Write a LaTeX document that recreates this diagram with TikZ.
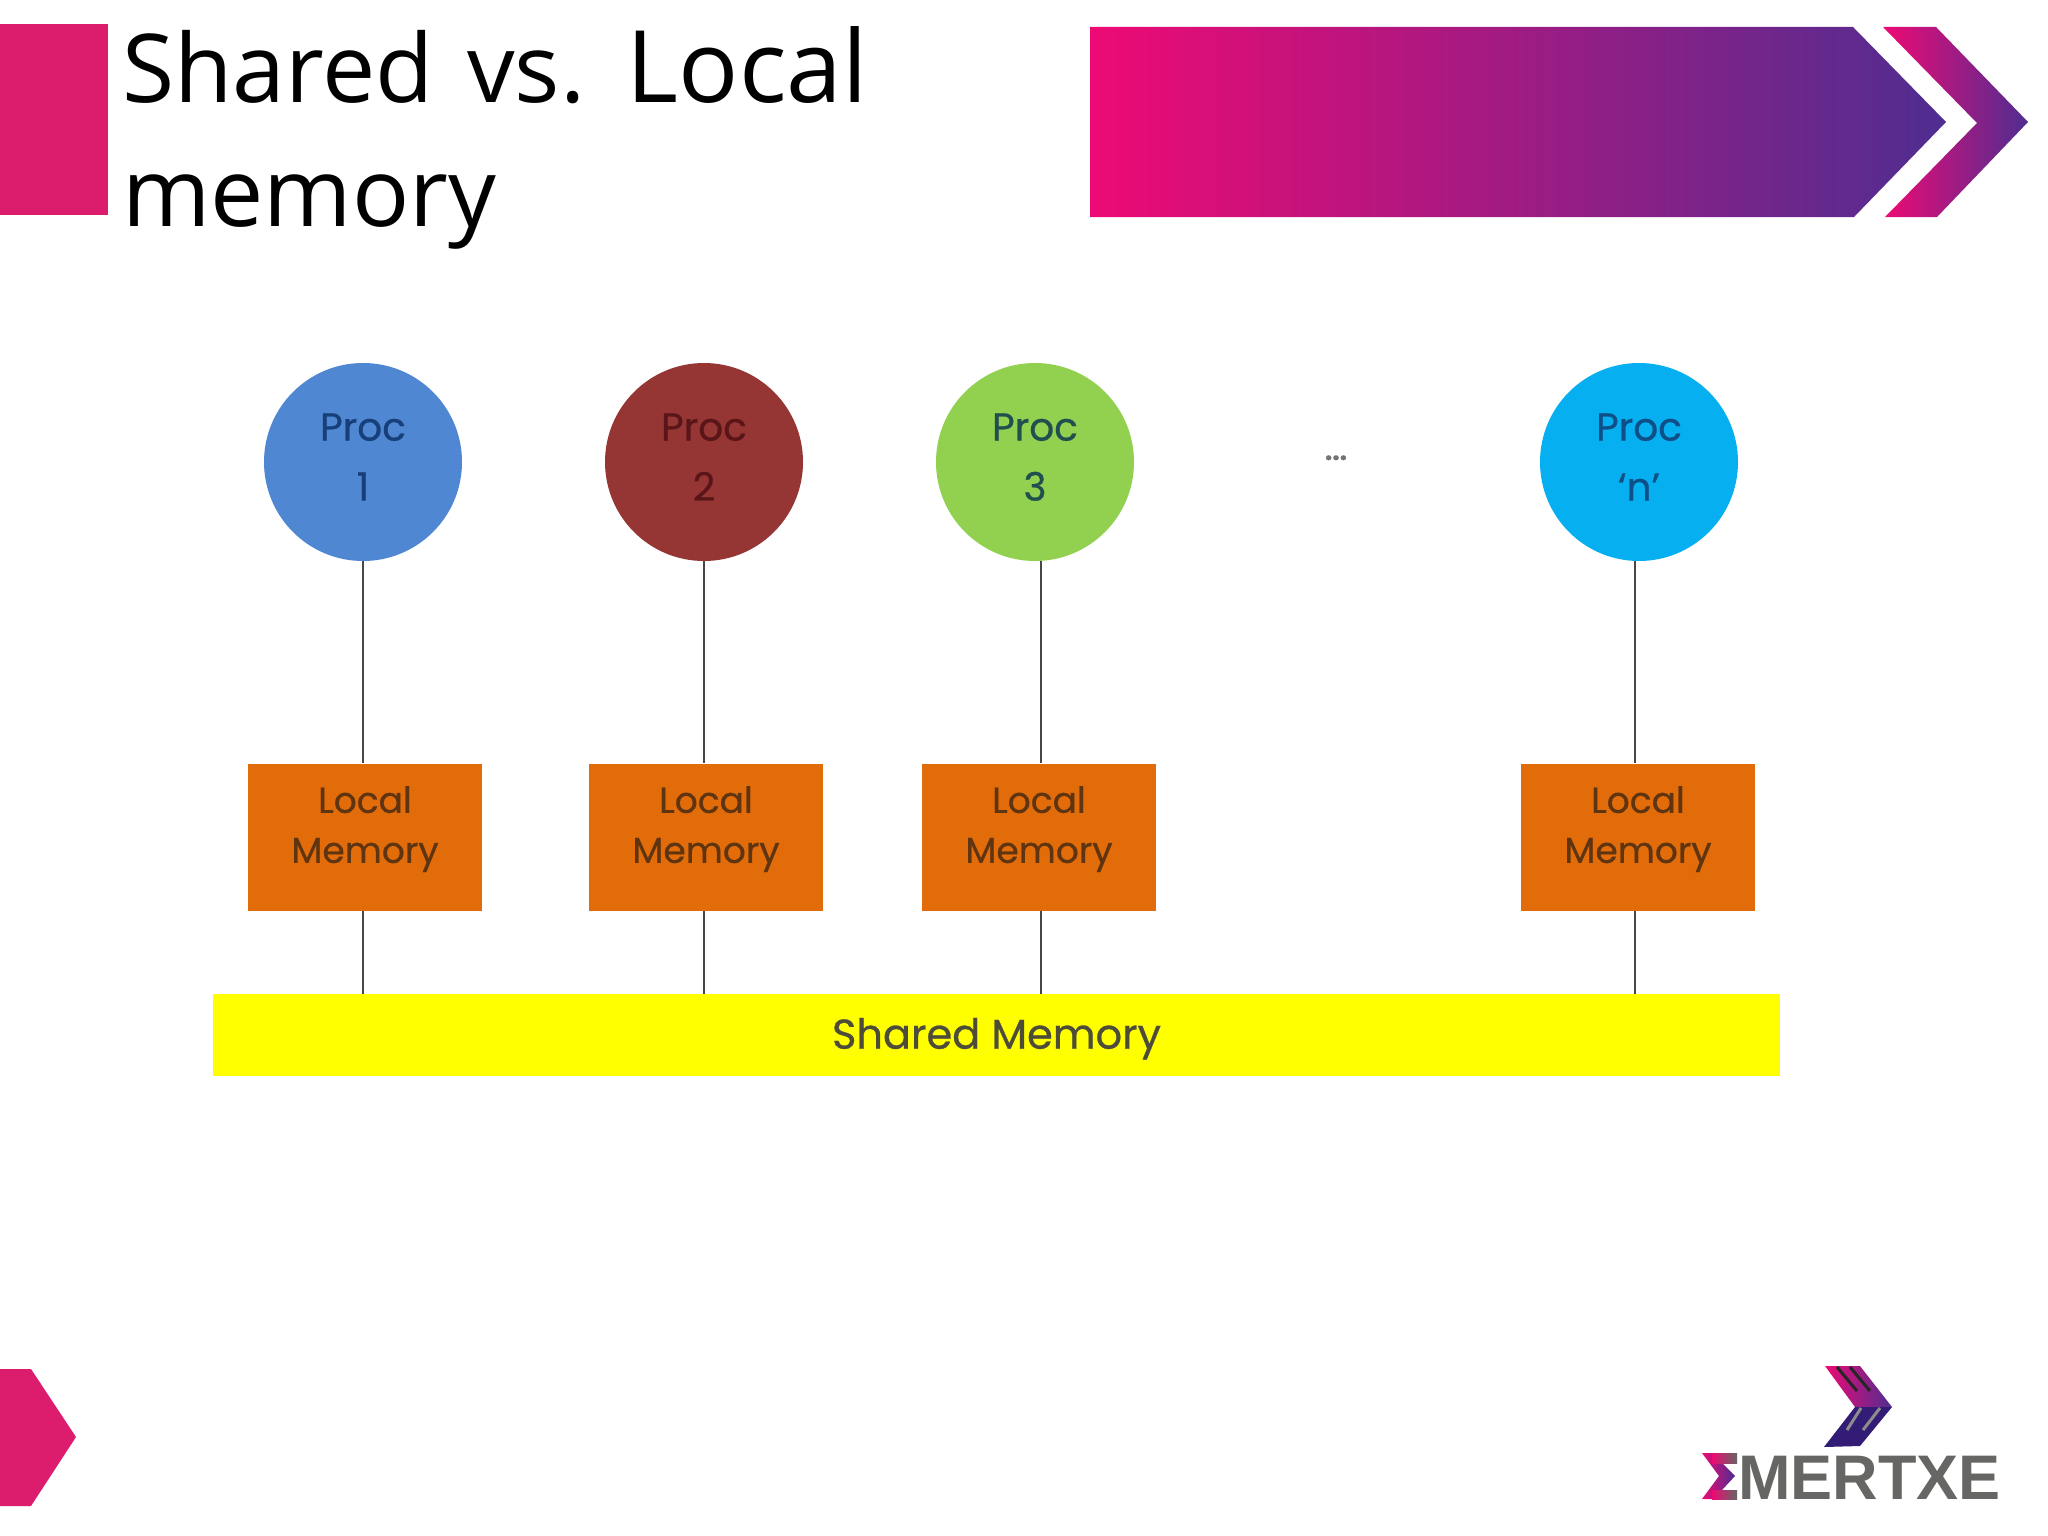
\documentclass[tikz,border=0pt]{standalone}
\usepackage{fontspec}
\setmainfont{Open Sans}[WordSpace=1.35]
\newfontfamily\bodyfont{Poppins}[FakeBold=0.7]
\newfontfamily\logofont{Liberation Sans}
\definecolor{brandpink}{HTML}{DC1C6C}
\definecolor{gradpink}{HTML}{EE0A74}
\definecolor{gradpurple}{HTML}{4F2D91}
\definecolor{procone}{HTML}{5087D2}
\definecolor{proctwo}{HTML}{953634}
\definecolor{procthree}{HTML}{92D050}
\definecolor{procn}{HTML}{06AFEF}
\definecolor{memfill}{HTML}{E36C0A}
\definecolor{memtext}{HTML}{5F3410}
\definecolor{pureyellow}{HTML}{FFFF00}
\definecolor{sharedtext}{HTML}{4C4C38}
\definecolor{logogray}{HTML}{666664}
\newcommand{\liftby}[1]{\rule[-#1]{0pt}{#1}}
\tikzset{
  x=1pt,y=-1pt,
  titletext/.style={anchor=base west,inner sep=0pt,font=\fontsize{95}{127}\selectfont},
  proc/.style={circle,minimum size=198pt,inner sep=0pt,align=center,
    font=\bodyfont\fontsize{39}{60}\selectfont},
  localmem/.style={rectangle,fill=memfill,minimum width=234pt,minimum height=147pt,inner sep=0pt,
    align=center,text=memtext,font=\bodyfont\fontsize{36}{50}\selectfont},
  link/.style={draw=black!72,line width=2.5pt},
}
\begin{document}
\begin{tikzpicture}
\useasboundingbox (0,0) rectangle (2048,1536);
\fill[white] (0,0) rectangle (2048,1536);
% header
\fill[brandpink] (0,24) rectangle (108,215);
\node[titletext] (title1) at (122,103) {Shared vs. {\fontsize{100}{127}\selectfont Local}};
\node[titletext] (title2) at (122,226) {memory};
\shade[left color=gradpink,right color=gradpurple]
  (1090,27) -- (1853,27) -- (1946,122) -- (1854,217) -- (1090,217) -- cycle;
\shade[left color=gradpink,right color=gradpurple]
  (1883,27) -- (1936,27) -- (2028,122) -- (1937,217) -- (1885,217) -- (1977,123) -- cycle;
% footer arrow
\fill[brandpink] (0,1369) -- (31,1369) -- (76,1437) -- (31,1506) -- (0,1506) -- cycle;
% processors
\node[proc,fill=procone,text={rgb,255:red,23;green,64;blue,122}] (p1) at (363,462) {Proc\\1\liftby{10pt}};
\node[proc,fill=proctwo,text={rgb,255:red,90;green,21;blue,24}] (p2) at (704,462) {Proc\\2\liftby{10pt}};
\node[proc,fill=procthree,text={rgb,255:red,31;green,79;blue,79}] (p3) at (1035,462) {Proc\\3\liftby{10pt}};
\node[proc,fill=procn,text={rgb,255:red,15;green,79;blue,136}] (pn) at (1639,462) {Proc\\‘n’\liftby{10pt}};
\node[anchor=base,font=\bodyfont\bfseries\fontsize{26}{30}\selectfont,text=black!55,inner sep=0pt] (dots) at (1336,460) {...};
% local memories
\node[localmem] (m1) at (365,837) {Local\\Memory\liftby{25pt}};
\node[localmem] (m2) at (706,837) {Local\\Memory\liftby{25pt}};
\node[localmem] (m3) at (1039,837) {Local\\Memory\liftby{25pt}};
\node[localmem] (mn) at (1638,837) {Local\\Memory\liftby{25pt}};
% shared memory
\node[rectangle,fill=pureyellow,minimum width=1567pt,minimum height=82pt,inner sep=0pt,text=sharedtext,
  font=\bodyfont\fontsize{41.5}{46}\selectfont] (shared) at (996.5,1035) {\rule{0pt}{38pt}Shared Memory};
% connectors
\draw[link] (p1.south) -- ([xshift=-2pt]m1.north);
\draw[link] (p2.south) -- ([xshift=-2pt]m2.north);
\draw[link] ([xshift=6pt]p3.south) -- ([xshift=2pt]m3.north);
\draw[link] ([xshift=-4pt]pn.south) -- ([xshift=-3pt]mn.north);
\draw[link] ([xshift=-2pt]m1.south) -- ([xshift=-2pt]m1.south |- shared.north);
\draw[link] ([xshift=-2pt]m2.south) -- ([xshift=-2pt]m2.south |- shared.north);
\draw[link] ([xshift=2pt]m3.south) -- ([xshift=2pt]m3.south |- shared.north);
\draw[link] ([xshift=-3pt]mn.south) -- ([xshift=-3pt]mn.south |- shared.north);
% logo
\shade[left color=gradpink,right color=gradpurple]
  (1825,1366) -- (1860,1366) -- (1892,1407) -- (1855,1407) -- cycle;
\fill[gradpurple!70!black!90!blue]
  (1855,1407) -- (1892,1407) -- (1860,1446) -- (1824,1447) -- cycle;
\draw[black!85,line width=3pt] (1837,1367) -- (1857,1391) (1850,1367) -- (1870,1391);
\draw[black!45,line width=3pt] (1861,1408) -- (1847,1430) (1880,1408) -- (1863,1430);
\shade[left color=gradpink,right color=gradpurple]
  (1702,1453) -- (1722,1453) -- (1722,1463) -- (1735,1476) -- (1722,1490) -- (1722,1499) -- (1702,1499) -- (1719,1476) -- cycle;
\shade[left color=gradpink,right color=logogray] (1712,1453) rectangle (1737,1463);
\shade[left color=gradpink,right color=logogray] (1712,1490) rectangle (1737,1499);
\node[anchor=base west,inner sep=0pt,text=logogray,font=\logofont\bfseries\fontsize{63}{70}\selectfont] (logo) at (1738,1499) {MERTXE};
\end{tikzpicture}
\end{document}
